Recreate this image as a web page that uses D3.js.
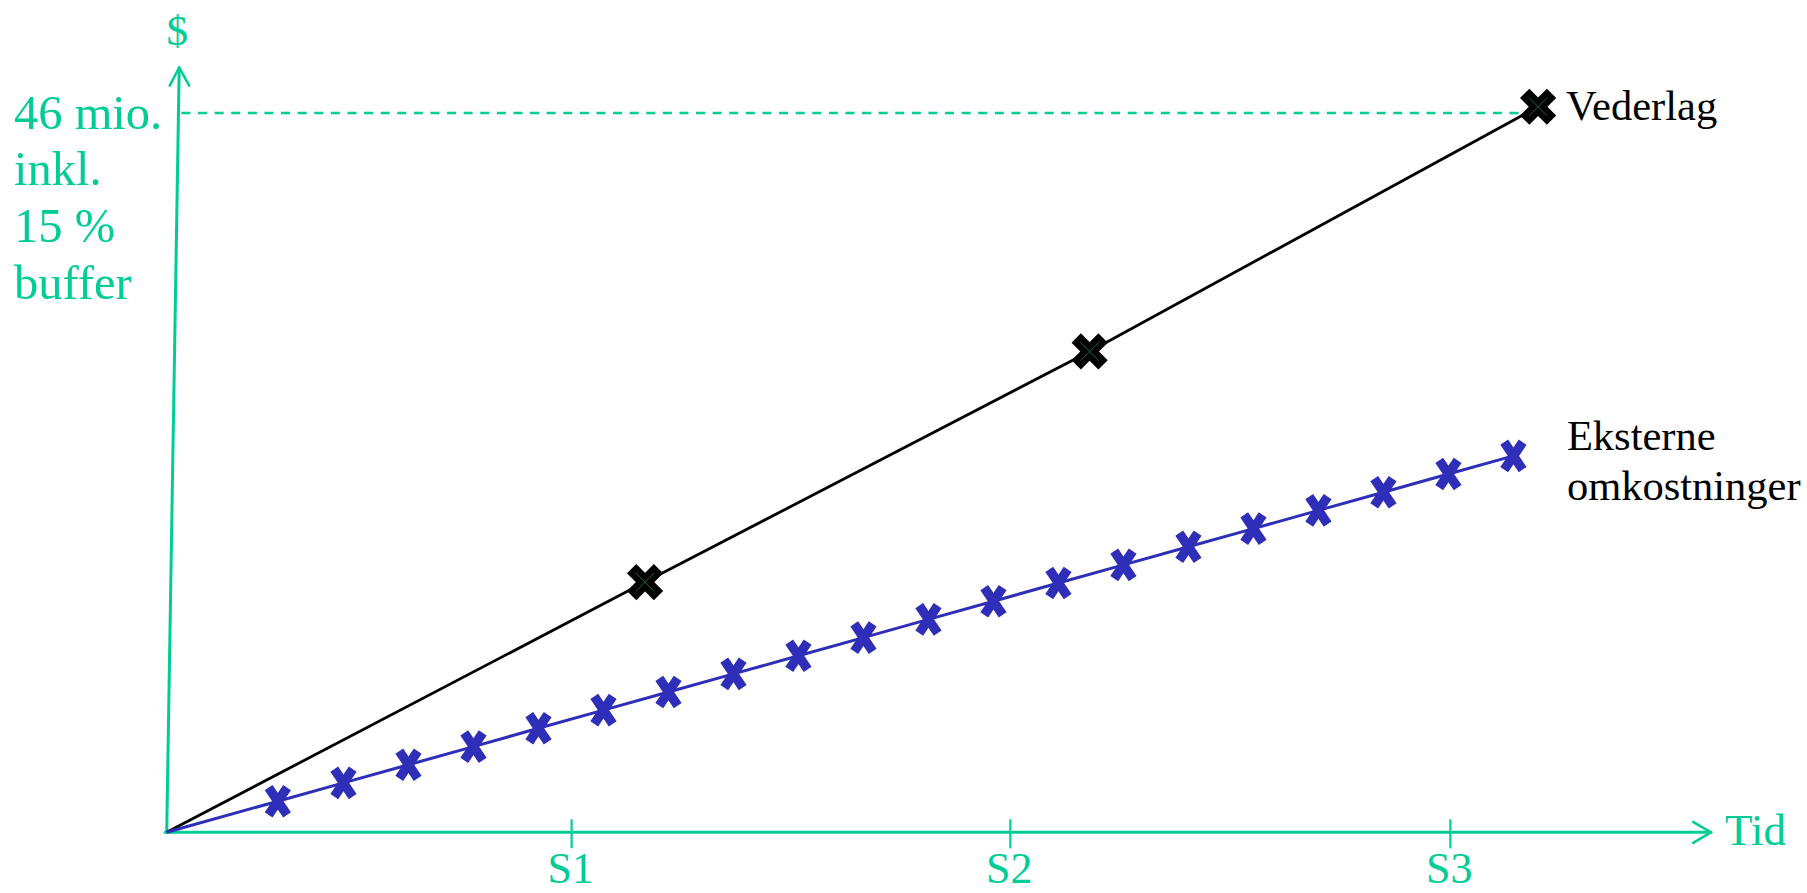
<!DOCTYPE html>
<html>
<head>
<meta charset="utf-8">
<script src="https://cdn.jsdelivr.net/npm/d3@7/dist/d3.min.js"></script>
<style>
  html, body { margin: 0; padding: 0; background: #fff; }
  svg { display: block; }
</style>
</head>
<body>
<svg id="chart" width="1807" height="893"></svg>
<script>
// ---- data ----
const xTickLabels = ["S1", "S2", "S3"];
const xTickValues = [6.23, 12.98, 19.75];
const xAxisMax = 23.76;          // end of the time arrow
const yAxisMax = 48.9;           // end of the $ arrow
const budgetValue = 46;          // 46 mio. incl. 15 % buffer
const budgetLabel = ["46 mio.", "inkl.", "15 %", "buffer"];
const xAxisTitle = "Tid";
const yAxisTitle = "$";

const vederlagName = "Vederlag";
const vederlagT = [0, 7.36, 14.2, 21.1];
const vederlagValues = [0, 16.0, 30.75, 46.4];

const eksterneName = ["Eksterne", "omkostninger"];
const eksterneT = [0, 1.71, 2.72, 3.72, 4.72, 5.72, 6.72, 7.72, 8.72, 9.72, 10.72,
                   11.72, 12.72, 13.72, 14.72, 15.72, 16.72, 17.72, 18.72, 19.72, 20.72];
const eksterneValues = [0, 1.99, 3.16, 4.32, 5.48, 6.65, 7.81, 8.97, 10.13, 11.29, 12.45,
                        13.62, 14.78, 15.94, 17.10, 18.26, 19.42, 20.59, 21.75, 22.91, 24.07];

// ---- styles ----
const GREEN = "#00cc96";
const BLUE = "#2e2eb8";
const BLACK = "#000";
const FONT = "'Liberation Serif', 'Times New Roman', Times, 'DejaVu Serif', serif";

const svg = d3.select("#chart");
const x = d3.scaleLinear().domain([0, xAxisMax]).range([166.7, 1711]);
const y = d3.scaleLinear().domain([0, budgetValue]).range([832.3, 113]);

const lean = 12.5; // slight tilt of the $ axis (px over its full length)
const yAxisX = v => x(0) + lean * (y(0) - y(v)) / (y(0) - y(yAxisMax));

// ---- dashed budget line ----
svg.append("line")
  .attr("x1", yAxisX(budgetValue) + 3).attr("y1", y(budgetValue))
  .attr("x2", x(vederlagT[vederlagT.length - 1]) - 6).attr("y2", y(budgetValue))
  .attr("stroke", GREEN).attr("stroke-width", 2.5)
  .attr("stroke-dasharray", "9 7.6");

// ---- axes ----
const gAx = svg.append("g").attr("stroke", GREEN).attr("fill", "none")
  .attr("stroke-linecap", "round").attr("stroke-linejoin", "round");
gAx.append("line").attr("x1", x(0) - 1.5).attr("y1", y(0)).attr("x2", x(xAxisMax)).attr("y2", y(0))
  .attr("stroke-width", 3);
gAx.append("path")
  .attr("d", `M${x(xAxisMax) - 18},${y(0) - 10.5} L${x(xAxisMax)},${y(0)} L${x(xAxisMax) - 18},${y(0) + 10.5}`)
  .attr("stroke-width", 2.5);
gAx.append("line").attr("x1", yAxisX(0)).attr("y1", y(0)).attr("x2", yAxisX(yAxisMax)).attr("y2", y(yAxisMax))
  .attr("stroke-width", 3);
gAx.append("path")
  .attr("d", `M${yAxisX(yAxisMax) - 9.5},${y(yAxisMax) + 18} L${yAxisX(yAxisMax)},${y(yAxisMax)} L${yAxisX(yAxisMax) + 10},${y(yAxisMax) + 18}`)
  .attr("stroke-width", 2.5);

// ticks
const ticks = svg.append("g");
ticks.selectAll("line").data(xTickValues).join("line")
  .attr("x1", d => x(d)).attr("x2", d => x(d))
  .attr("y1", y(0) - 13).attr("y2", y(0) + 16)
  .attr("stroke", GREEN).attr("stroke-width", 2.2);
ticks.selectAll("text").data(xTickLabels).join("text")
  .attr("x", (d, i) => x(xTickValues[i]) - 1).attr("y", 883)
  .attr("text-anchor", "middle").attr("font-family", FONT).attr("font-size", 44).attr("fill", GREEN)
  .text(d => d);

// axis titles
svg.append("text").attr("x", x(xAxisMax) + 14).attr("y", y(0) + 13)
  .attr("font-family", FONT).attr("font-size", 45).attr("fill", GREEN).text(xAxisTitle);
svg.append("text").attr("x", yAxisX(yAxisMax) - 2).attr("y", 45)
  .attr("text-anchor", "middle").attr("font-family", FONT).attr("font-size", 43).attr("fill", GREEN).text(yAxisTitle);

// budget label
svg.append("g").selectAll("text").data(budgetLabel).join("text")
  .attr("x", 14).attr("y", (d, i) => y(budgetValue) + 15.5 + i * 56.7)
  .attr("font-family", FONT).attr("font-size", 48.5).attr("fill", GREEN).text(d => d);

// ---- series lines ----
const line = d3.line().x(d => x(d[0])).y(d => y(d[1]));
const vederlag = vederlagT.map((t, i) => [t, vederlagValues[i]]);
const eksterne = eksterneT.map((t, i) => [t, eksterneValues[i]]);

svg.append("path").datum(vederlag).attr("d", line)
  .attr("fill", "none").attr("stroke", BLACK).attr("stroke-width", 2.8);
svg.append("path").datum(eksterne).attr("d", line)
  .attr("fill", "none").attr("stroke", BLUE).attr("stroke-width", 3);

// ---- markers ----
const bm = svg.append("g").selectAll("g").data(vederlag.slice(1)).join("g")
  .attr("transform", d => `translate(${x(d[0])},${y(d[1])})`);
[45, -45].forEach(a => {
  bm.append("rect").attr("x", -19).attr("y", -6.6).attr("width", 38).attr("height", 13.2)
    .attr("transform", `rotate(${a})`).attr("fill", BLACK);
});
[45, -45].forEach(a => {
  bm.append("line").attr("x1", -13).attr("x2", 13).attr("y1", 0).attr("y2", 0)
    .attr("transform", `rotate(${a})`).attr("stroke", "#1f8a66").attr("stroke-width", 0.7);
});

const em = svg.append("g").selectAll("g").data(eksterne.slice(1)).join("g")
  .attr("transform", d => `translate(${x(d[0])},${y(d[1])})`);
[34, -34].forEach(a => {
  em.append("rect").attr("x", -4.7).attr("y", -16.5).attr("width", 9.4).attr("height", 33)
    .attr("transform", `rotate(${a})`).attr("fill", BLUE);
});

// ---- series labels ----
const vLast = vederlag[vederlag.length - 1];
svg.append("text").attr("x", x(vLast[0]) + 28).attr("y", y(vLast[1]) + 13.5)
  .attr("font-family", FONT).attr("font-size", 42.5).attr("fill", BLACK).text(vederlagName);

const eLast = eksterne[eksterne.length - 1];
svg.append("g").selectAll("text").data(eksterneName).join("text")
  .attr("x", x(eLast[0]) + 53.5).attr("y", (d, i) => y(eLast[1]) - 6 + i * 50)
  .attr("font-family", FONT).attr("font-size", 42.5).attr("fill", BLACK).text(d => d);
</script>
</body>
</html>
